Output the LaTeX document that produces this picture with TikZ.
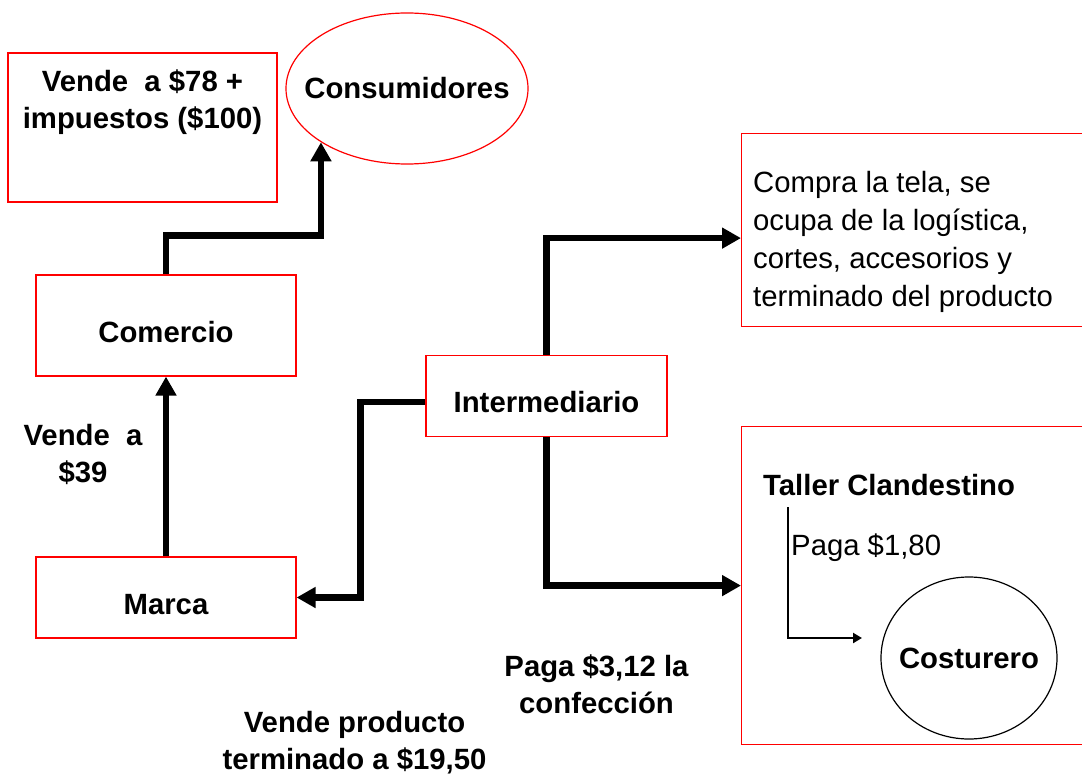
\documentclass[tikz,border=0pt]{standalone}
\usepackage{fontspec}
\setmainfont{Liberation Sans}
\usetikzlibrary{arrows.meta,shapes.geometric}
\newcommand{\letra}{\fontsize{29.3}{37}\selectfont}
\newcommand{\letrab}{\fontsize{29.3}{38}\selectfont}

\begin{document}
\begin{tikzpicture}[x=1pt,y=-1pt,
  caja/.style={draw=red,line width=1.2pt,inner sep=0pt,font=\bfseries\letra,text height=33pt,text depth=0pt},
  etiqueta/.style={font=\bfseries\letra,align=center,inner sep=0pt},
  texto/.style={font=\letrab,align=left,inner sep=0pt},
  flecha/.style={line width=6.5pt,-{Triangle[length=19pt,width=20pt]}},
  flechita/.style={line width=2.5pt,-{Triangle[length=9pt,width=10pt]}}]
\useasboundingbox (0,0) rectangle (1082,778);
% arriba
\node[caja,minimum width=269pt,minimum height=149pt] (venta) at (142.5,127.5) {};
\node[etiqueta,anchor=north] (precio) at (142.5,70) {Vende\ \ a \$78 +\\impuestos (\$100)};
\node[ellipse,draw=red,line width=1.2pt,minimum width=242pt,minimum height=151pt,inner ysep=0pt,inner xsep=-17pt,font=\bfseries\letra] (consum) at (407,88.5) {Consumidores};
% izquierda
\node[caja,minimum width=260pt,minimum height=101pt] (comercio) at (166,325.5) {Comercio};
\node[caja,minimum width=260pt,minimum height=81pt] (marca) at (166,597.5) {Marca};
\node[etiqueta,anchor=north] (vende39) at (83,424) {Vende\ \ a\\\$39};
\node[caja,minimum width=241pt,minimum height=81pt] (inter) at (546.5,396) {Intermediario};
% derecha
\node[caja,anchor=north west,minimum width=360pt,minimum height=193pt] (logistica) at (741,133) {};
\node[texto,anchor=north west] (tareas) at (753,171) {Compra la tela, se\\ocupa de la logística,\\cortes, accesorios y\\terminado del producto};
\node[caja,anchor=north west,minimum width=360pt,minimum height=318pt] (taller) at (741,426) {};
\node[etiqueta,anchor=base west] (clandestino) at (763,495) {Taller Clandestino};
\node[texto,anchor=base west] (paga) at (791,555) {Paga \$1,80};
\node[ellipse,draw,line width=1.2pt,minimum width=176pt,minimum height=162pt,inner ysep=0pt,inner xsep=-9pt,font=\bfseries\letra] (costurero) at (969,658) {Costurero};
\coordinate (ini) at (788,507);
\coordinate (fin) at (862,638);
% abajo
\node[etiqueta,anchor=north] (pago312) at (596.5,655) {Paga \$3,12 la\\confección};
\node[etiqueta,anchor=north] (vendeprod) at (354.5,711) {Vende producto\\terminado a \$19,50};
% flechas
\draw[flecha] (comercio.north) -- ++(0,-39) -| (consum.212);
\draw[flecha] (marca.north) -- (comercio.south);
\draw[flecha] ([yshift=-6pt]inter.west) -- ++(-65,0) |- (marca.east);
\draw[flecha] (inter.north) |- ([yshift=-8pt]logistica.west);
\draw[flecha] (inter.south) |- (taller.west);
\draw[flechita] (ini) |- (fin);
\end{tikzpicture}
\end{document}
